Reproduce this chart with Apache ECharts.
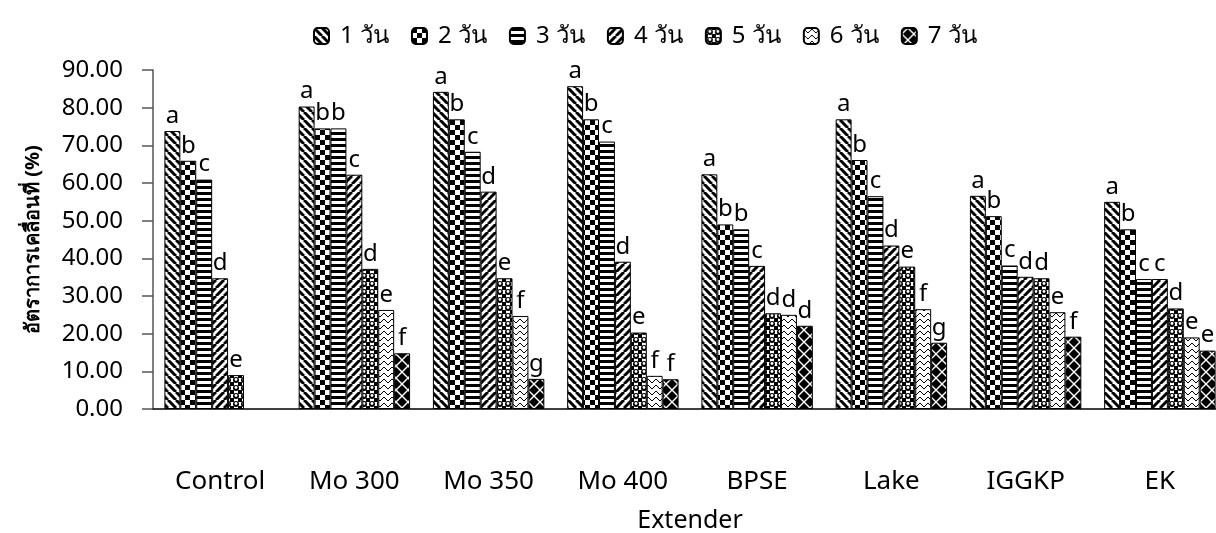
<!DOCTYPE html>
<html>
<head>
<meta charset="utf-8">
<title>Extender</title>
<script src="https://cdn.jsdelivr.net/npm/echarts@6/dist/echarts.min.js"></script>
<style>
  html, body { margin: 0; padding: 0; background: #fff; }
  #chart { width: 1216px; height: 533px; }
</style>
</head>
<body>
<div id="chart"></div>
<script>
const categories = ['Control', 'Mo 300', 'Mo 350', 'Mo 400', 'BPSE', 'Lake', 'IGGKP', 'EK']
const seriesNames = ['1 วัน', '2 วัน', '3 วัน', '4 วัน', '5 วัน', '6 วัน', '7 วัน']
const yTicks = [0, 10, 20, 30, 40, 50, 60, 70, 80, 90]

const day1 = [73.8, 80.3, 84.2, 85.7, 62.3, 76.9, 56.6, 55.0]
const day2 = [65.9, 74.5, 76.9, 76.9, 49.0, 66.1, 51.2, 47.7]
const day3 = [60.9, 74.5, 68.3, 71.0, 47.7, 56.5, 38.1, 34.5]
const day4 = [34.7, 62.2, 57.7, 39.1, 38.0, 43.4, 35.1, 34.5]
const day5 = [9.0, 37.2, 34.7, 20.3, 25.4, 37.8, 34.7, 26.7]
const day6 = [null, 26.3, 24.7, 8.8, 25.0, 26.5, 25.7, 19.0]
const day7 = [null, 14.8, 8.0, 7.9, 22.1, 17.6, 19.2, 15.5]

// ตัวอักษรแสดงความแตกต่างทางสถิติ
const letters1 = ['a', 'a', 'a', 'a', 'a', 'a', 'a', 'a']
const letters2 = ['b', 'b', 'b', 'b', 'b', 'b', 'b', 'b']
const letters3 = ['c', 'b', 'c', 'c', 'b', 'c', 'c', 'c']
const letters4 = ['d', 'c', 'd', 'd', 'c', 'd', 'd', 'c']
const letters5 = ['e', 'd', 'e', 'e', 'd', 'e', 'd', 'd']
const letters6 = ['', 'e', 'f', 'f', 'd', 'f', 'e', 'e']
const letters7 = ['', 'f', 'g', 'f', 'd', 'g', 'f', 'e']

const values = [day1, day2, day3, day4, day5, day6, day7]
const letters = [letters1, letters2, letters3, letters4, letters5, letters6, letters7]

const FONT = "'Noto Sans', 'DejaVu Sans', sans-serif"

// ลวดลายขาวดำของแต่ละแท่ง
function makeTile(w, h, draw) {
  const c = document.createElement('canvas')
  c.width = w
  c.height = h
  const ctx = c.getContext('2d')
  ctx.fillStyle = '#fff'
  ctx.fillRect(0, 0, w, h)
  ctx.fillStyle = '#000'
  ctx.strokeStyle = '#000'
  draw(ctx, w, h)
  return c
}

const patterns = [
  // 1: เส้นทแยง \
  makeTile(8, 8, (ctx, w) => {
    ctx.lineWidth = 3
    for (let k = -1; k <= 1; k++) {
      ctx.beginPath(); ctx.moveTo(k * w, 0); ctx.lineTo(k * w + w, w); ctx.stroke()
    }
  }),
  // 2: ตาหมากรุก
  makeTile(10, 10, ctx => {
    ctx.fillRect(0, 0, 5, 5)
    ctx.fillRect(5, 5, 5, 5)
  }),
  // 3: เส้นแนวนอน
  makeTile(4, 6, ctx => {
    ctx.fillRect(0, 0, 4, 3)
  }),
  // 4: เส้นทแยง /
  makeTile(8, 8, (ctx, w) => {
    ctx.lineWidth = 3
    for (let k = -1; k <= 1; k++) {
      ctx.beginPath(); ctx.moveTo(k * w, w); ctx.lineTo(k * w + w, 0); ctx.stroke()
    }
  }),
  // 5: วงกลม
  makeTile(8, 8, ctx => {
    ctx.fillRect(0, 0, 2, 2); ctx.fillRect(6, 0, 2, 2); ctx.fillRect(0, 6, 2, 2); ctx.fillRect(6, 6, 2, 2)
    ctx.beginPath(); ctx.arc(4, 4, 3, 0, Math.PI * 2); ctx.fill()
    ctx.fillStyle = '#fff'
    ctx.beginPath(); ctx.arc(4, 3.5, 1.4, 0, Math.PI * 2); ctx.fill()
  }),
  // 6: ซิกแซก
  makeTile(8, 6, ctx => {
    ctx.lineWidth = 1
    ctx.beginPath(); ctx.moveTo(0, 1); ctx.lineTo(4, 5); ctx.lineTo(8, 1); ctx.stroke()
  }),
  // 7: ข้าวหลามตัด
  makeTile(12, 12, ctx => {
    const d = (cx, cy) => {
      ctx.beginPath(); ctx.moveTo(cx, cy - 5); ctx.lineTo(cx + 5, cy); ctx.lineTo(cx, cy + 5); ctx.lineTo(cx - 5, cy); ctx.closePath(); ctx.fill()
    }
    d(6, 6); d(0, 0); d(12, 0); d(0, 12); d(12, 12)
  })
]

const series = values.map((data, i) => ({
  name: seriesNames[i],
  type: 'bar',
  data: data,
  barGap: '0%',
  barCategoryGap: '17%',
  itemStyle: {
    color: { image: patterns[i], repeat: 'repeat' },
    borderColor: '#000',
    borderWidth: 1
  },
  label: {
    show: true,
    position: 'top',
    distance: 3,
    color: '#000',
    fontSize: 24,
    fontFamily: FONT,
    formatter: p => letters[i][p.dataIndex] || ''
  }
}))

const chart = echarts.init(document.getElementById('chart'))
chart.setOption({
  animation: false,
  backgroundColor: '#fff',
  legend: {
    top: 19,
    left: 308,
    itemWidth: 15,
    itemHeight: 16,
    itemGap: 22,
    textStyle: { fontSize: 24, color: '#000', fontFamily: FONT, padding: [0, 0, 0, 6] },
    data: seriesNames
  },
  // ปิดการย่อกริดอัตโนมัติ ให้ขอบกราฟตรงกับภาพต้นฉบับ
  grid: { left: 153, top: 70, width: 1074, height: 339, outerBoundsMode: 'none' },
  xAxis: {
    type: 'category',
    data: categories,
    name: 'Extender',
    nameLocation: 'middle',
    nameGap: 99,
    nameTextStyle: { fontSize: 25, color: '#000', fontFamily: FONT },
    axisLine: { lineStyle: { color: '#000', width: 1.5 } },
    axisTick: { show: false },
    axisLabel: { margin: 60, fontSize: 26, color: '#000', fontFamily: FONT }
  },
  yAxis: {
    type: 'value',
    min: yTicks[0],
    max: yTicks[yTicks.length - 1],
    interval: 10,
    name: 'อัตราการเคลื่อนที่ (%)',
    nameLocation: 'middle',
    nameGap: 110,
    nameTextStyle: { fontSize: 20, fontWeight: 'bold', color: '#000', fontFamily: FONT },
    axisLine: { show: true, lineStyle: { color: '#555', width: 1.5 } },
    axisTick: { show: true, length: 11, lineStyle: { color: '#555', width: 1.5 } },
    splitLine: { show: false },
    axisLabel: { margin: 30, fontSize: 24, color: '#000', fontFamily: FONT, formatter: v => v.toFixed(2) }
  },
  series: series
})
</script>
</body>
</html>
